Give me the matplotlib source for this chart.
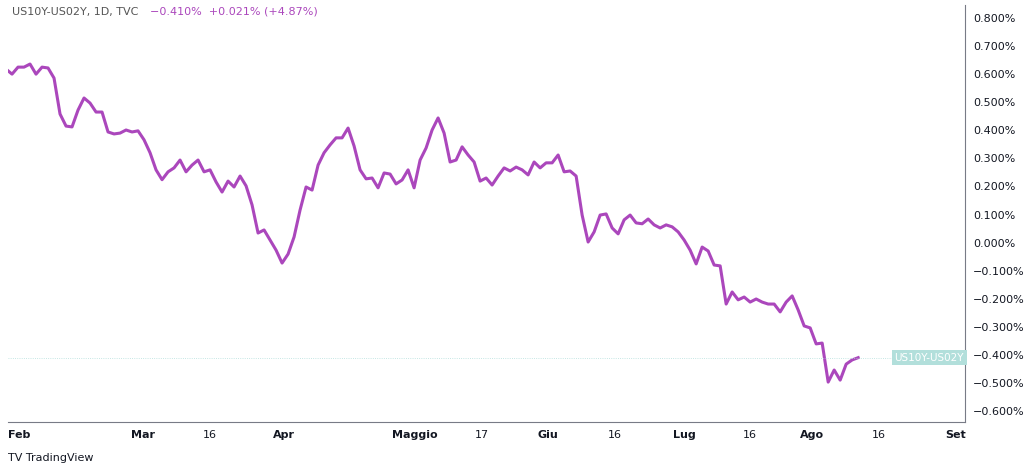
import matplotlib
matplotlib.use("Agg")
import matplotlib.pyplot as plt
import numpy as np

values = [0.618,0.600,0.625,0.625,0.636,0.600,0.625,0.622,0.586,0.458,0.415,0.412,0.472,0.515,0.497,0.465,0.465,0.394,0.387,0.390,
0.401,0.394,0.398,0.366,0.320,0.259,0.224,0.252,0.266,0.294,0.252,0.276,0.294,0.252,0.259,0.216,0.180,0.219,0.198,0.237,
0.202,0.134,0.034,0.045,0.009,-0.027,-0.073,-0.041,0.020,0.116,0.198,0.187,0.276,0.320,0.348,0.373,0.373,0.408,0.344,0.259,
0.227,0.230,0.195,0.248,0.244,0.209,0.223,0.259,0.195,0.294,0.337,0.401,0.444,0.390,0.287,0.294,0.341,0.312,0.287,0.219,
0.230,0.205,0.237,0.266,0.255,0.269,0.259,0.241,0.287,0.266,0.284,0.284,0.312,0.252,0.255,0.237,0.098,0.002,0.038,0.098,
0.102,0.052,0.031,0.081,0.098,0.070,0.067,0.084,0.063,0.052,0.063,0.056,0.038,0.009,-0.027,-0.076,-0.016,-0.030,-0.080,-0.083,
-0.219,-0.176,-0.204,-0.194,-0.212,-0.201,-0.212,-0.219,-0.219,-0.247,-0.212,-0.190,-0.240,-0.297,-0.304,-0.361,-0.358,-0.497,-0.454,-0.490,
-0.433,-0.418,-0.410]
# tick positions in bar-index units (TradingView spaces bars evenly)
tick_pos = [2.2, 22.8, 34.0, 46.3, 68.2, 79.3, 90.3, 101.5, 113.0, 124.0, 134.3, 145.5, 158.2]
tick_labels = ["Feb","Mar","16","Apr","Maggio","17","Giu","16","Lug","16","Ago","16","Set"]
y_ticks = [0.8,0.7,0.6,0.5,0.4,0.3,0.2,0.1,0.0,-0.1,-0.2,-0.3,-0.4,-0.5,-0.6]

fig = plt.figure(figsize=(10.24,4.67), dpi=100)
ax = fig.add_axes([8/1024, 45/467, 957/1024, 417/467])
ax.plot(np.arange(len(values)), values, color="#ab47bc", lw=2.2)
ax.set_xlim(0.33, 159.8)
ax.set_ylim(-0.6 - 11/28.07*0.1, 0.8 + 13/28.07*0.1)
ax.yaxis.tick_right()
ax.set_yticks(y_ticks)
ax.set_yticklabels([f"{v:.3f}%".replace("-", "\u2212") for v in y_ticks])
ax.set_xticks(tick_pos)
ax.set_xticklabels(tick_labels)
ax.tick_params(axis="both", length=0, labelsize=8, colors="#131722", pad=6)
for lbl in ax.get_xticklabels():
    if lbl.get_text() in ("Feb","Mar","Apr","Maggio","Giu","Lug","Ago","Set"):
        lbl.set_fontweight("bold")
for s in ["top","left"]:
    ax.spines[s].set_visible(False)
ax.spines["right"].set_color("#787b86")
ax.spines["bottom"].set_color("#787b86")
ax.axhline(values[-1], color="#b2dfdb", lw=0.6, ls=":")
ax.text(0.999, values[-1], "US10Y-US02Y", transform=ax.get_yaxis_transform(), ha="right", va="center",
        fontsize=7.5, color="white", bbox=dict(boxstyle="square,pad=0.25", fc="#b2dfdb", ec="none"))
fig.text(12/1024, 1-12/467, "US10Y-US02Y, 1D, TVC", fontsize=8, color="#555555", va="center")
fig.text(150/1024, 1-12/467, "\u22120.410%  +0.021% (+4.87%)", fontsize=8, color="#ab47bc", va="center")
fig.text(8/1024, 1-458/467, "TV TradingView", fontsize=8, color="#131722", va="center")
fig.savefig("out.png", dpi=100)
